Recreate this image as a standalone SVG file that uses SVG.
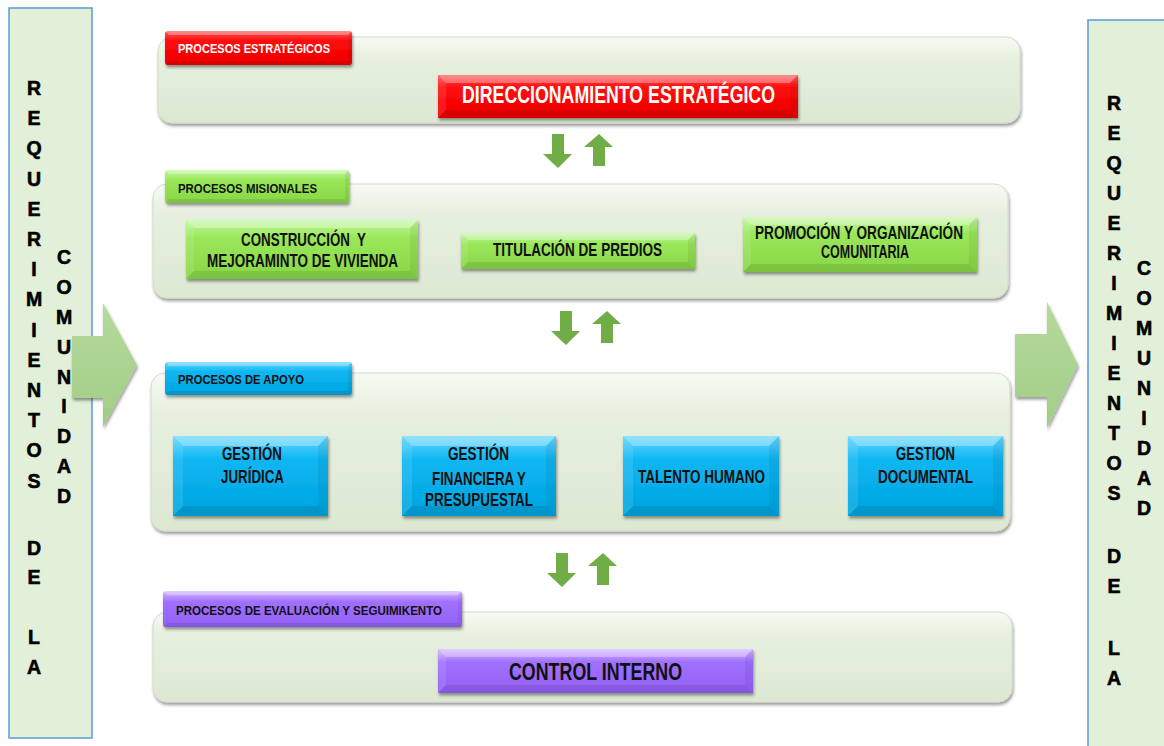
<svg xmlns="http://www.w3.org/2000/svg" width="1164" height="746" viewBox="0 0 1164 746">
<defs>
<style>
.col{fill:#e2efd9;stroke:#5b9bd5;stroke-width:1.5}
.cl{font-family:"Liberation Sans",Arial,sans-serif;font-weight:bold;font-size:19.5px;text-anchor:middle;fill:#000;stroke:#000;stroke-width:0.6}
.panel{fill:url(#gPanel);stroke:#d3dccb;stroke-width:1}
.tab{font-family:"Liberation Sans",Arial,sans-serif;font-weight:bold;font-size:13.5px;fill:#111}
.bx{font-family:"Liberation Sans",Arial,sans-serif;font-weight:bold;font-size:17.5px;fill:#111}
.big{font-family:"Liberation Sans",Arial,sans-serif;font-weight:bold;font-size:23px}
.bt{fill:#fff;opacity:.3}
.bb{fill:#000;opacity:.09}
.bl{fill:#fff;opacity:.1}
.br{fill:#000;opacity:.06}
.sa{fill:#70ad47}
.ba{fill:url(#gBig);filter:url(#sh)}
</style>
<filter id="sh" x="-10%" y="-20%" width="120%" height="150%">
<feDropShadow dx="1" dy="2.5" stdDeviation="1.6" flood-color="#000" flood-opacity="0.4"/>
</filter>
<linearGradient id="gPanel" x1="0" y1="0" x2="0" y2="1">
<stop offset="0" stop-color="#f7fbf4"/><stop offset="0.25" stop-color="#e7f0df"/><stop offset="1" stop-color="#dde8d3"/>
</linearGradient>
<linearGradient id="gRed" x1="0" y1="0" x2="0" y2="1">
<stop offset="0" stop-color="#ff5a5a"/><stop offset="0.3" stop-color="#ff0a0a"/><stop offset="1" stop-color="#ee0000"/>
</linearGradient>
<linearGradient id="gGreen" x1="0" y1="0" x2="0" y2="1">
<stop offset="0" stop-color="#c4f7a0"/><stop offset="0.3" stop-color="#9ae85a"/><stop offset="1" stop-color="#88d646"/>
</linearGradient>
<linearGradient id="gBlue" x1="0" y1="0" x2="0" y2="1">
<stop offset="0" stop-color="#66d6ff"/><stop offset="0.3" stop-color="#0cb6f2"/><stop offset="1" stop-color="#00a4e0"/>
</linearGradient>
<linearGradient id="gPurple" x1="0" y1="0" x2="0" y2="1">
<stop offset="0" stop-color="#d6b8ff"/><stop offset="0.3" stop-color="#a070ff"/><stop offset="1" stop-color="#9260f5"/>
</linearGradient>
<linearGradient id="gBig" x1="0" y1="0" x2="0" y2="1">
<stop offset="0" stop-color="#b5da9c"/><stop offset="1" stop-color="#a2cd86"/>
</linearGradient>
<path id="dn" d="M9,0 H21 V20 H29 L15,34 L0,20 H9 Z"/>
<path id="up" d="M15,0 L29,13 H21 V32 H9 V13 H0 Z"/>
</defs>

<rect width="1164" height="746" fill="#fff"/>

<g id="col-left">
<rect class="col" x="9" y="8" width="83" height="730"/>
<text class="cl"><tspan x="34" y="95">R</tspan><tspan x="34" y="125">E</tspan><tspan x="34" y="155">Q</tspan><tspan x="34" y="186">U</tspan><tspan x="34" y="216">E</tspan><tspan x="34" y="246">R</tspan><tspan x="34" y="276">I</tspan><tspan x="34" y="306">M</tspan><tspan x="34" y="337">I</tspan><tspan x="34" y="367">E</tspan><tspan x="34" y="397">N</tspan><tspan x="34" y="427">T</tspan><tspan x="34" y="457">O</tspan><tspan x="34" y="488">S</tspan><tspan x="34" y="555">D</tspan><tspan x="34" y="584">E</tspan><tspan x="34" y="644">L</tspan><tspan x="34" y="674">A</tspan></text>
<text class="cl"><tspan x="64" y="264">C</tspan><tspan x="64" y="294">O</tspan><tspan x="64" y="324">M</tspan><tspan x="64" y="354">U</tspan><tspan x="64" y="384">N</tspan><tspan x="64" y="413">I</tspan><tspan x="64" y="443">D</tspan><tspan x="64" y="473">A</tspan><tspan x="64" y="503">D</tspan></text>
</g>

<g id="col-right">
<rect class="col" x="1088" y="20" width="80" height="730"/>
<text class="cl"><tspan x="1114" y="110">R</tspan><tspan x="1114" y="140">E</tspan><tspan x="1114" y="170">Q</tspan><tspan x="1114" y="200">U</tspan><tspan x="1114" y="230">E</tspan><tspan x="1114" y="260">R</tspan><tspan x="1114" y="290">I</tspan><tspan x="1114" y="320">M</tspan><tspan x="1114" y="350">I</tspan><tspan x="1114" y="380">E</tspan><tspan x="1114" y="410">N</tspan><tspan x="1114" y="440">T</tspan><tspan x="1114" y="470">O</tspan><tspan x="1114" y="500">S</tspan><tspan x="1114" y="563">D</tspan><tspan x="1114" y="593">E</tspan><tspan x="1114" y="655">L</tspan><tspan x="1114" y="685">A</tspan></text>
<text class="cl"><tspan x="1144" y="275">C</tspan><tspan x="1144" y="305">O</tspan><tspan x="1144" y="335">M</tspan><tspan x="1144" y="365">U</tspan><tspan x="1144" y="395">N</tspan><tspan x="1144" y="425">I</tspan><tspan x="1144" y="455">D</tspan><tspan x="1144" y="485">A</tspan><tspan x="1144" y="515">D</tspan></text>
</g>

<g id="panel-estrategicos">
<rect class="panel" x="158" y="37" width="862" height="86" rx="14" filter="url(#sh)"/>
<rect x="165" y="31" width="187" height="34" rx="3" fill="url(#gRed)" filter="url(#sh)"/>
<polygon class="bt" points="165,31 352,31 348,35 169,35"/><polygon class="bb" points="165,65 352,65 348,61 169,61"/><polygon class="br" points="352,31 348,35 348,61 352,65"/>
<text class="tab" x="178" y="53.3" textLength="152" lengthAdjust="spacingAndGlyphs" style="fill:#fff">PROCESOS ESTRATÉGICOS</text>
</g>
<g id="node-direccionamiento">
<rect x="438" y="75" width="360" height="43" fill="url(#gRed)" filter="url(#sh)"/>
<polygon class="bt" points="438,75 798,75 790,83 446,83"/><polygon class="bb" points="438,118 798,118 790,110 446,110"/><polygon class="bl" points="438,75 446,83 446,110 438,118"/><polygon class="br" points="798,75 790,83 790,110 798,118"/>
<text class="big" x="462" y="103.3" textLength="313" lengthAdjust="spacingAndGlyphs" fill="#fff">DIRECCIONAMIENTO ESTRATÉGICO</text>
</g>

<g id="panel-misionales">
<rect class="panel" x="153" y="184" width="855" height="114" rx="14" filter="url(#sh)"/>
<rect x="165" y="170" width="184" height="33" rx="3" fill="url(#gGreen)" filter="url(#sh)"/>
<polygon class="bt" points="165,170 349,170 345,174 169,174"/><polygon class="bb" points="165,203 349,203 345,199 169,199"/><polygon class="br" points="349,170 345,174 345,199 349,203"/>
<text class="tab" x="178" y="192.7" textLength="139" lengthAdjust="spacingAndGlyphs">PROCESOS MISIONALES</text>
</g>
<g id="node-construccion">
<rect x="186" y="220" width="232" height="59" fill="url(#gGreen)" filter="url(#sh)"/>
<polygon class="bt" points="186,220 418,220 410,228 194,228"/><polygon class="bb" points="186,279 418,279 410,271 194,271"/><polygon class="bl" points="186,220 194,228 194,271 186,279"/><polygon class="br" points="418,220 410,228 410,271 418,279"/>
<text class="bx" x="241" y="246" textLength="125" lengthAdjust="spacingAndGlyphs" style="white-space:pre">CONSTRUCCIÓN  Y</text>
<text class="bx" x="207" y="267.3" textLength="191" lengthAdjust="spacingAndGlyphs">MEJORAMINTO DE VIVIENDA</text>
</g>
<g id="node-titulacion">
<rect x="461" y="233" width="234" height="36" fill="url(#gGreen)" filter="url(#sh)"/>
<polygon class="bt" points="461,233 695,233 688,240 468,240"/><polygon class="bb" points="461,269 695,269 688,262 468,262"/><polygon class="bl" points="461,233 468,240 468,262 461,269"/><polygon class="br" points="695,233 688,240 688,262 695,269"/>
<text class="bx" x="493" y="256" textLength="169" lengthAdjust="spacingAndGlyphs">TITULACIÓN DE PREDIOS</text>
</g>
<g id="node-promocion">
<rect x="743" y="217" width="234" height="55" fill="url(#gGreen)" filter="url(#sh)"/>
<polygon class="bt" points="743,217 977,217 969,225 751,225"/><polygon class="bb" points="743,272 977,272 969,264 751,264"/><polygon class="bl" points="743,217 751,225 751,264 743,272"/><polygon class="br" points="977,217 969,225 969,264 977,272"/>
<text class="bx" x="755" y="239.3" textLength="208" lengthAdjust="spacingAndGlyphs">PROMOCIÓN Y ORGANIZACIÓN</text>
<text class="bx" x="821" y="258.3" textLength="88" lengthAdjust="spacingAndGlyphs">COMUNITARIA</text>
</g>

<g id="panel-apoyo">
<rect class="panel" x="151" y="373" width="859" height="158" rx="14" filter="url(#sh)"/>
<rect x="165" y="362" width="187" height="33" rx="3" fill="url(#gBlue)" filter="url(#sh)"/>
<polygon class="bt" points="165,362 352,362 348,366 169,366"/><polygon class="bb" points="165,395 352,395 348,391 169,391"/><polygon class="br" points="352,362 348,366 348,391 352,395"/>
<text class="tab" x="178" y="384" textLength="126" lengthAdjust="spacingAndGlyphs">PROCESOS DE APOYO</text>
</g>
<g id="node-juridica">
<rect x="173" y="436" width="155" height="80" fill="url(#gBlue)" filter="url(#sh)"/>
<polygon class="bt" points="173,436 328,436 318,446 183,446"/><polygon class="bb" points="173,516 328,516 318,506 183,506"/><polygon class="bl" points="173,436 183,446 183,506 173,516"/><polygon class="br" points="328,436 318,446 318,506 328,516"/>
<text class="bx" x="222" y="460" textLength="60" lengthAdjust="spacingAndGlyphs">GESTIÓN</text>
<text class="bx" x="221" y="482.7" textLength="63" lengthAdjust="spacingAndGlyphs">JURÍDICA</text>
</g>
<g id="node-financiera">
<rect x="402" y="436" width="154" height="80" fill="url(#gBlue)" filter="url(#sh)"/>
<polygon class="bt" points="402,436 556,436 546,446 412,446"/><polygon class="bb" points="402,516 556,516 546,506 412,506"/><polygon class="bl" points="402,436 412,446 412,506 402,516"/><polygon class="br" points="556,436 546,446 546,506 556,516"/>
<text class="bx" x="448" y="460" textLength="61" lengthAdjust="spacingAndGlyphs">GESTIÓN</text>
<text class="bx" x="432" y="485" textLength="94" lengthAdjust="spacingAndGlyphs">FINANCIERA Y</text>
<text class="bx" x="425" y="506" textLength="108" lengthAdjust="spacingAndGlyphs">PRESUPUESTAL</text>
</g>
<g id="node-talento">
<rect x="623" y="436" width="156" height="80" fill="url(#gBlue)" filter="url(#sh)"/>
<polygon class="bt" points="623,436 779,436 769,446 633,446"/><polygon class="bb" points="623,516 779,516 769,506 633,506"/><polygon class="bl" points="623,436 633,446 633,506 623,516"/><polygon class="br" points="779,436 769,446 769,506 779,516"/>
<text class="bx" x="638" y="483.3" textLength="127" lengthAdjust="spacingAndGlyphs">TALENTO HUMANO</text>
</g>
<g id="node-documental">
<rect x="848" y="436" width="155" height="80" fill="url(#gBlue)" filter="url(#sh)"/>
<polygon class="bt" points="848,436 1003,436 993,446 858,446"/><polygon class="bb" points="848,516 1003,516 993,506 858,506"/><polygon class="bl" points="848,436 858,446 858,506 848,516"/><polygon class="br" points="1003,436 993,446 993,506 1003,516"/>
<text class="bx" x="896" y="460" textLength="59" lengthAdjust="spacingAndGlyphs">GESTION</text>
<text class="bx" x="878" y="483.3" textLength="95" lengthAdjust="spacingAndGlyphs">DOCUMENTAL</text>
</g>

<g id="panel-evaluacion">
<rect class="panel" x="153" y="612" width="859" height="90" rx="14" filter="url(#sh)"/>
<rect x="163" y="591" width="299" height="36" rx="3" fill="url(#gPurple)" filter="url(#sh)"/>
<polygon class="bt" points="163,591 462,591 458,595 167,595"/><polygon class="bb" points="163,627 462,627 458,623 167,623"/><polygon class="br" points="462,591 458,595 458,623 462,627"/>
<text class="tab" x="176" y="615" textLength="266" lengthAdjust="spacingAndGlyphs">PROCESOS DE EVALUACIÓN Y SEGUIMIKENTO</text>
</g>
<g id="node-control">
<rect x="438" y="649" width="315" height="44" fill="url(#gPurple)" filter="url(#sh)"/>
<polygon class="bt" points="438,649 753,649 745,657 446,657"/><polygon class="bb" points="438,693 753,693 745,685 446,685"/><polygon class="bl" points="438,649 446,657 446,685 438,693"/><polygon class="br" points="753,649 745,657 745,685 753,693"/>
<text class="big" x="509" y="680" textLength="173" lengthAdjust="spacingAndGlyphs" fill="#111">CONTROL INTERNO</text>
</g>

<g id="connectors">
<path class="ba" d="M72,336 H103 V303 L137,365 L103,427 V398 H72 Z"/>
<path class="ba" d="M1015,334 H1047 V302 L1078,365 L1047,428 V397 H1015 Z"/>
<use href="#dn" class="sa" x="543" y="134"/>
<use href="#up" class="sa" x="584" y="134"/>
<use href="#dn" class="sa" x="551" y="311"/>
<use href="#up" class="sa" x="592" y="311"/>
<use href="#dn" class="sa" x="547" y="553"/>
<use href="#up" class="sa" x="588" y="553"/>
</g>
</svg>
